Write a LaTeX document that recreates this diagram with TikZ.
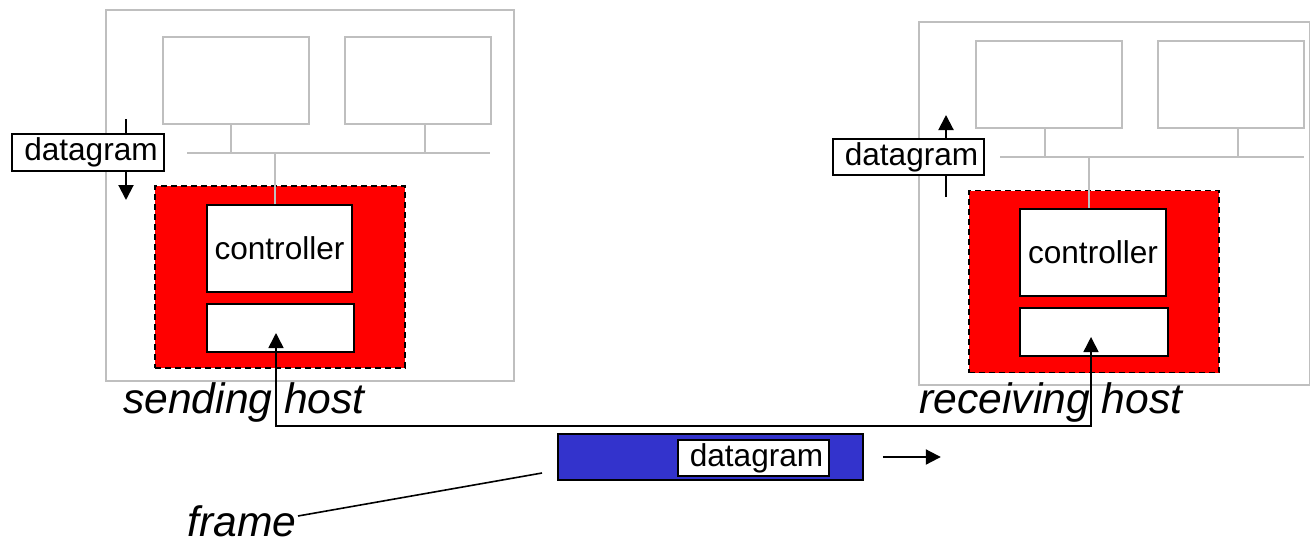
\documentclass[tikz,border=0pt]{standalone}
\usepackage{fontspec}
\setmainfont{Liberation Sans}
\usetikzlibrary{arrows.meta}
\definecolor{framblue}{RGB}{51,51,204}
\begin{document}
\begin{tikzpicture}[x=0.5pt,y=-0.5pt,
		host/.style={draw=black!25,line width=1pt,inner sep=0pt},
		nic/.style={draw,fill=red,dash pattern=on 3pt off 2pt,line width=0.8pt,inner sep=0pt,minimum width=125pt,minimum height=91pt},
		part/.style={draw,fill=white,line width=1pt,inner sep=0pt,font=\fontsize{15.8}{18}\selectfont},
		lbl/.style={font=\fontsize{21.3}{24}\selectfont\itshape,anchor=base},
		pass/.style={line width=1pt,-{Triangle[length=7.5pt,width=7.5pt]}}]
	\useasboundingbox (0,0) rectangle (1310,546);
	% sending host
	\node[host,minimum width=204pt,minimum height=185.5pt] (shost) at (310,195.5) {};
	\node[host,minimum width=73pt,minimum height=43.5pt] (sm1) at (236,80.5) {};
	\node[host,minimum width=73pt,minimum height=43.5pt] (sm2) at (418,80.5) {};
	\coordinate (sbusl) at (187,153);
	\coordinate (sbusr) at (490,153);
	\draw[host] (sbusl) -- (sbusr);
	\draw[host] ([xshift=-2.5pt]sm1.south) -- ([xshift=-2.5pt]sm1.south |- sbusl);
	\draw[host] ([xshift=3.5pt]sm2.south) -- ([xshift=3.5pt]sm2.south |- sbusl);
	\node[nic] (snic) at (280,277) {};
	\node[part,minimum width=72.5pt,minimum height=43.5pt] (sctrl) at (279.5,248.5) {controller};
	\node[part,minimum width=73.5pt,minimum height=24pt] (sadapt) at (280.5,328) {};
	\draw[host] ([xshift=-2.25pt]sctrl.north) -- ([xshift=-2.25pt]sctrl.north |- sbusl);
	\coordinate (sin) at (126,119);
	\coordinate (sout) at (126,200);
	\draw[pass] (sin) -- (sout);
	\node[part,minimum width=76pt,minimum height=18.5pt] (sdgram) at (88,152.5) {\hspace{3pt}\raisebox{-1pt}{datagram}};
	\node[lbl] (slbl) at (244,413) {sending host};
	% receiving host
	\node[host,minimum width=195.5pt,minimum height=181.5pt] (rhost) at (1114.5,203.5) {};
	\node[host,minimum width=73pt,minimum height=43.5pt] (rm1) at (1049,84.5) {};
	\node[host,minimum width=73pt,minimum height=43.5pt] (rm2) at (1231,84.5) {};
	\coordinate (rbusl) at (1000,157);
	\coordinate (rbusr) at (1304,157);
	\draw[host] (rbusl) -- (rbusr);
	\draw[host] ([xshift=-2pt]rm1.south) -- ([xshift=-2pt]rm1.south |- rbusl);
	\draw[host] ([xshift=3.5pt]rm2.south) -- ([xshift=3.5pt]rm2.south |- rbusl);
	\node[nic] (rnic) at (1094,281.5) {};
	\node[part,minimum width=73pt,minimum height=43.5pt] (rctrl) at (1093,252.5) {controller};
	\node[part,minimum width=74pt,minimum height=24pt] (radapt) at (1094,332) {};
	\draw[host] ([xshift=-2pt]rctrl.north) -- ([xshift=-2pt]rctrl.north |- rbusl);
	\coordinate (rin) at (946,197);
	\coordinate (rout) at (946,115);
	\draw[pass] (rin) -- (rout);
	\node[part,minimum width=75.5pt,minimum height=18pt] (rdgram) at (908.5,157) {\hspace{3pt}\raisebox{-1pt}{datagram}};
	\node[lbl] (rlbl) at (1051,413) {receiving host};
	% link
	\coordinate (stip) at (276,333);
	\coordinate (rtip) at (1091,337);
	\coordinate (wire) at (276,426);
	\draw[line width=0.8pt,{Triangle[length=7.5pt,width=7.5pt]}-{Triangle[length=7.5pt,width=7.5pt]}] (stip) -- (wire) -| (rtip);
	\node[draw,fill=framblue,line width=0.8pt,inner sep=0pt,minimum width=152.5pt,minimum height=23pt] (frm) at (710.5,457) {};
	\node[part,minimum width=75.5pt,minimum height=18pt] (fdgram) at (753.5,458) {\hspace{3pt}\raisebox{-1pt}{datagram}};
	\draw[pass] ([xshift=9.5pt]frm.east) -- ++(29pt,0);
	\node[lbl] (flbl) at (242,536) {frame};
	\coordinate (ftail) at (298,516);
	\coordinate (fhead) at (542,473);
	\draw[line width=0.8pt] (ftail) -- (fhead);
\end{tikzpicture}
\end{document}
